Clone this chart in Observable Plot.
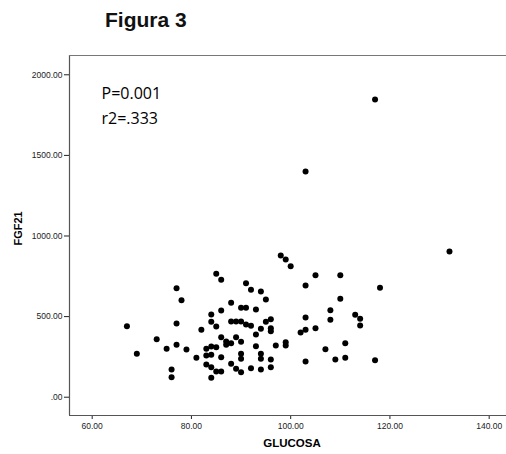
<!DOCTYPE html>
<html>
<head>
<meta charset="utf-8">
<script src="https://cdn.jsdelivr.net/npm/d3@7"></script>
<script src="https://cdn.jsdelivr.net/npm/@observablehq/plot@0.6"></script>
<style>
  html, body { margin: 0; padding: 0; background: #fff; }
  #wrap { position: relative; width: 506px; height: 454px; overflow: hidden; }
  #title { position: absolute; left: 105px; top: 8px; font: bold 21px "Liberation Sans", Arial, sans-serif; color: #111; }
</style>
</head>
<body>
<div id="wrap"><div id="title">Figura 3</div></div>
<script>
// GLUCOSA values
const glucosa = [67,69,73,75,76,76,77,78,77,77,79,81,82,83,83,83,84,84,84,84,84,84,85,85,85,85,86,86,86,86,86,87,87,88,88,88,88,89,89,89,90,90,90,90,90,90,91,91,91,92,92,92,93,93,93,94,94,94,94,94,95,95,96,96,96,96,96,97,98,99,100,99,99,102,103,103,103,103,103,105,105,107,108,108,109,110,110,111,111,113,114,114,117,117,118,132];
// FGF21 values
const fgf21 = [440,269,360,300,172,124,676,602,457,325,296,244,418,300,259,203,513,468,315,263,186,120,766,439,310,159,728,538,372,248,159,346,325,586,470,335,207,470,372,176,555,470,344,269,238,155,707,555,451,666,443,180,544,389,316,656,424,269,238,172,606,468,484,428,409,234,186,321,879,854,813,341,321,401,1400,693,494,418,221,757,428,298,540,480,234,757,610,335,244,511,486,445,1847,230,679,904];
const yTicks = [0,500,1000,1500,2000];
const xTicks = [60,80,100,120,140];
const annotations = ["P=0.001", "r2=.333"];

const data = glucosa.map((g, i) => ({glucosa: g, fgf21: fgf21[i]}));
const xDom = [55.43, 143.49];
const yDom = [-113.5, 2119.7];

const chart = Plot.plot({
  width: 506,
  height: 454,
  marginLeft: 69,
  marginRight: 0,
  marginTop: 55,
  marginBottom: 39,
  style: {fontFamily: "'Liberation Sans', Arial, sans-serif", fontSize: "8.5px", color: "#222", background: "#fff"},
  x: {domain: xDom, ticks: xTicks, tickFormat: d => d.toFixed(2), tickSize: 4, tickPadding: 3, label: null},
  y: {domain: yDom, ticks: yTicks, tickFormat: d => d === 0 ? ".00" : d.toFixed(2), tickSize: 5, tickPadding: 2, label: null},
  marks: [
    Plot.ruleX([xDom[0]], {stroke: "#555", strokeWidth: 1.2}),
    Plot.ruleY([yDom[0]], {stroke: "#555", strokeWidth: 1.2}),
    Plot.ruleY([yDom[1]], {stroke: "#777", strokeWidth: 1}),
    Plot.dot(data, {x: "glucosa", y: "fgf21", r: 3, fill: "#000", stroke: "none"}),
    Plot.text([annotations[0]], {frameAnchor: "top-left", dx: 32, dy: 32, text: d => d, textAnchor: "start", fontSize: 16, fill: "#000", fontFamily: "'Open Sans', sans-serif"}),
    Plot.text([annotations[1]], {frameAnchor: "top-left", dx: 32, dy: 57, text: d => d, textAnchor: "start", fontSize: 16, fill: "#000", fontFamily: "'Open Sans', sans-serif"}),
    Plot.text(["FGF21"], {frameAnchor: "left", dx: -51, dy: 10, rotate: -90, text: d => d, fontWeight: "bold", fontSize: 11, fill: "#000"}),
    Plot.text(["GLUCOSA"], {frameAnchor: "bottom", dx: 4, dy: 31, text: d => d, fontWeight: "bold", fontSize: 11.5, fill: "#000"})
  ]
});
document.getElementById("wrap").prepend(chart);
</script>
</body>
</html>
